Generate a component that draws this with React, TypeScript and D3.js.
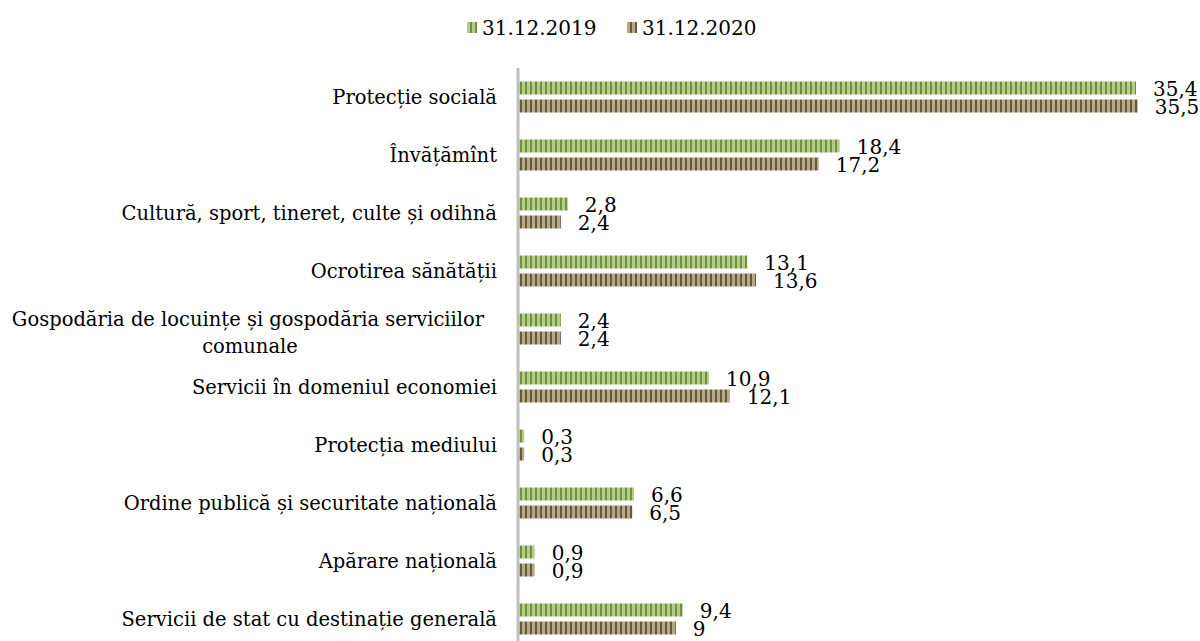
import React from "react";
import * as d3 from "d3";

const categories = [
  "Protecție socială",
  "Învățămînt",
  "Cultură, sport, tineret, culte și odihnă",
  "Ocrotirea sănătății",
  "Gospodăria de locuințe și gospodăria serviciilor comunale",
  "Servicii în domeniul economiei",
  "Protecția mediului",
  "Ordine publică și securitate națională",
  "Apărare națională",
  "Servicii de stat cu destinație generală",
];
const values2019 = [35.4, 18.4, 2.8, 13.1, 2.4, 10.9, 0.3, 6.6, 0.9, 9.4];
const values2020 = [35.5, 17.2, 2.4, 13.6, 2.4, 12.1, 0.3, 6.5, 0.9, 9];
const seriesNames = ["31.12.2019", "31.12.2020"];

const W = 1200;
const H = 641;
const FONT = "'DejaVu Serif', serif";

const fmt = (v: number) => String(v).replace(".", ",");

export default function App() {
  const x = d3.scaleLinear().domain([0, 35.5]).range([519, 519 + 35.5 * 17.43]);
  const y = d3.scaleBand<string>().domain(categories).range([68.5, 648.5]);
  const barH = 13;
  const series = [
    { name: seriesNames[0], values: values2019, pat: "pg", off: -16 },
    { name: seriesNames[1], values: values2020, pat: "pb", off: 2 },
  ];
  return (
    <svg width={W} height={H} style={{ display: "block", position: "absolute", left: 0, top: 0 }}>
      <defs>
        <pattern id="pg" width={5} height={20} patternUnits="userSpaceOnUse">
          <rect width={5} height={20} fill="#b3cc8e" />
          <rect x={0} width={2} height={20} fill="#739238" />
        </pattern>
        <pattern id="pb" width={5} height={20} patternUnits="userSpaceOnUse">
          <rect width={5} height={20} fill="#b4aa8b" />
          <rect x={0} width={2} height={20} fill="#675a37" />
        </pattern>
      </defs>
      <rect width={W} height={H} fill="#fff" />
      {/* legend */}
      <g fontFamily={FONT} fontSize={20} fill="#000">
        <rect x={467} y={22} width={10} height={11} fill="url(#pg)" />
        <text x={482} y={28} dominantBaseline="central">{seriesNames[0]}</text>
        <rect x={627} y={22} width={10} height={11} fill="url(#pb)" />
        <text x={642} y={28} dominantBaseline="central">{seriesNames[1]}</text>
      </g>
      {/* bars */}
      {series.map((s) => (
        <g key={s.name}>
          {categories.map((c, i) => {
            const cy = (y(c) as number) + y.bandwidth() / 2;
            const y0 = cy + s.off;
            return (
              <g key={c}>
                <rect x={x(0)} y={y0} width={x(s.values[i]) - x(0)} height={barH} fill={`url(#${s.pat})`} />
                <text
                  x={x(s.values[i]) + 17}
                  y={y0 + barH / 2 + 1}
                  dominantBaseline="central"
                  fontFamily={FONT}
                  fontSize={20}
                  fill="#000"
                >
                  {fmt(s.values[i])}
                </text>
              </g>
            );
          })}
        </g>
      ))}
      {/* axis */}
      <line x1={518} x2={518} y1={68} y2={641} stroke="#bfbfbf" strokeWidth={3} />
      {/* category labels */}
      <g fontFamily={FONT} fontSize={19.5} fill="#000">
        {categories.map((c) => {
          const cy = (y(c) as number) + y.bandwidth() / 2;
          if (c.startsWith("Gospodăria")) {
            return (
              <text key={c} textAnchor="middle">
                <tspan x={248} y={cy - 10} dominantBaseline="central">Gospodăria de locuințe și gospodăria serviciilor</tspan>
                <tspan x={250} y={cy + 17} dominantBaseline="central">comunale</tspan>
              </text>
            );
          }
          return (
            <text key={c} x={497} y={cy} textAnchor="end" dominantBaseline="central">
              {c}
            </text>
          );
        })}
      </g>
    </svg>
  );
}
